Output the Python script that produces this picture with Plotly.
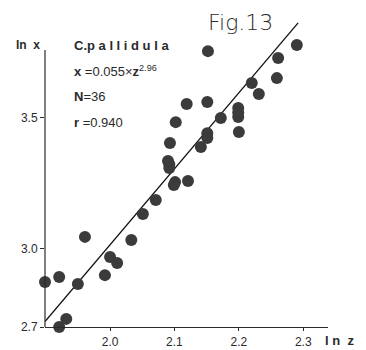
import plotly.graph_objects as go

# ln z (x-axis) and ln x (y-axis) values
ln_z = [1.899, 1.921, 1.961, 1.950, 1.932, 1.921, 1.992, 2.000, 2.011, 2.033,
        2.051, 2.071, 2.101, 2.121, 2.090, 2.092, 2.093, 2.141, 2.151, 2.151,
        2.102, 2.200, 2.172, 2.152, 2.290, 2.261, 2.259, 2.220, 2.231, 2.151,
        2.119, 2.199, 2.199, 2.099, 2.092, 2.199]
ln_x = [2.872, 2.891, 3.044, 2.864, 2.731, 2.700, 2.898, 2.967, 2.944, 3.032,
        3.131, 3.185, 3.253, 3.257, 3.334, 3.307, 3.402, 3.387, 3.440, 3.421,
        3.482, 3.444, 3.498, 3.753, 3.776, 3.727, 3.650, 3.631, 3.589, 3.559,
        3.551, 3.536, 3.502, 3.242, 3.321, 3.519]

# regression line as drawn
line_slope = 2.90
line_intercept = -2.786
line_z = [1.899, 2.292]
line_x = [line_intercept + line_slope * z for z in line_z]

x_ticks = [2.0, 2.1, 2.2, 2.3]
x_tick_labels = ["2.0", "2.1", "2.2", "2.3"]
y_ticks = [2.7, 3.0, 3.5]
y_tick_labels = ["2.7", "3.0", "3.5"]

X_RANGE = [1.899, 2.3384]
Y_RANGE = [2.7, 3.910]
Y_AXIS_TOP = 3.757

# page has an 8px body margin; figure placed so the plot lands where it should
OFF = 8
PAGE_W, PAGE_H = 366, 350
PLOT_L, PLOT_R, PLOT_T, PLOT_B = 45, 328, 10, 327   # page pixels
W, H = PAGE_W - 2 * OFF, PAGE_H - OFF
L, T = PLOT_L - OFF, PLOT_T - OFF
R, B = PAGE_W - OFF - PLOT_R, PAGE_H - PLOT_B
PW, PH = PLOT_R - PLOT_L, PLOT_B - PLOT_T


def px(xp):
    return (xp - PLOT_L) / PW


def py(yp):
    return (PLOT_B - yp) / PH


INK = "#2a2a2a"
FONT = "Liberation Sans, Arial, sans-serif"

fig = go.Figure()
fig.add_trace(go.Scatter(x=line_z, y=line_x, mode="lines",
                         line=dict(color="#111111", width=1.3),
                         hoverinfo="skip", showlegend=False))
fig.add_trace(go.Scatter(x=ln_z, y=ln_x, mode="markers",
                         marker=dict(size=12, color="#3b3b3b",
                                     line=dict(width=0)),
                         cliponaxis=False, showlegend=False))

fig.add_shape(type="line", xref="paper", yref="y", x0=0, x1=0,
              y0=Y_RANGE[0], y1=Y_AXIS_TOP,
              line=dict(color=INK, width=1.2))

fig.update_xaxes(range=X_RANGE, showgrid=False, zeroline=False,
                 automargin=False,
                 showline=True, linecolor=INK, linewidth=1.2,
                 tickmode="array", tickvals=x_ticks, ticktext=x_tick_labels,
                 ticks="outside", ticklen=3, tickcolor=INK, tickwidth=1,
                 tickfont=dict(size=12, color=INK, family=FONT))
fig.update_yaxes(range=Y_RANGE, showgrid=False, zeroline=False,
                 automargin=False,
                 showline=False,
                 tickmode="array", tickvals=y_ticks, ticktext=y_tick_labels,
                 ticks="outside", ticklen=4, tickcolor=INK, tickwidth=1,
                 tickfont=dict(size=12, color=INK, family=FONT))

ann = [
    dict(text="<b>ln  x</b>", x=px(28), y=py(45), size=12),
    dict(text="<b>C.p a l l i d u l a</b>",
         x=px(72), y=py(46), size=13, xanchor="left"),
    dict(text="<b>x</b> =0.055×<b>z</b><sup>2.96</sup>",
         x=px(72), y=py(71), size=13, xanchor="left"),
    dict(text="<b>N</b>=36", x=px(72), y=py(97), size=13, xanchor="left"),
    dict(text="<b>r</b> =0.940", x=px(72), y=py(122), size=13,
         xanchor="left"),
    dict(text="<b>l n  z</b>", x=px(339), y=py(340), size=13),
]
for a in ann:
    fig.add_annotation(text=a["text"], x=a["x"], y=a["y"],
                       xref="paper", yref="paper", showarrow=False,
                       xanchor=a.get("xanchor", "center"), yanchor="middle",
                       font=dict(size=a["size"], color=INK, family=FONT))

fig.add_annotation(text="Fig.13", x=px(240), y=py(8), xref="paper",
                   yref="paper", showarrow=False, xanchor="center",
                   yanchor="top",
                   font=dict(size=22, color=INK,
                             family="DejaVu Sans, Liberation Sans, sans-serif",
                             weight=200))

fig.update_layout(width=W, height=H,
                  margin=dict(l=L, r=R, t=T, b=B, pad=0),
                  paper_bgcolor="white", plot_bgcolor="white")

fig.write_html("out.html")
